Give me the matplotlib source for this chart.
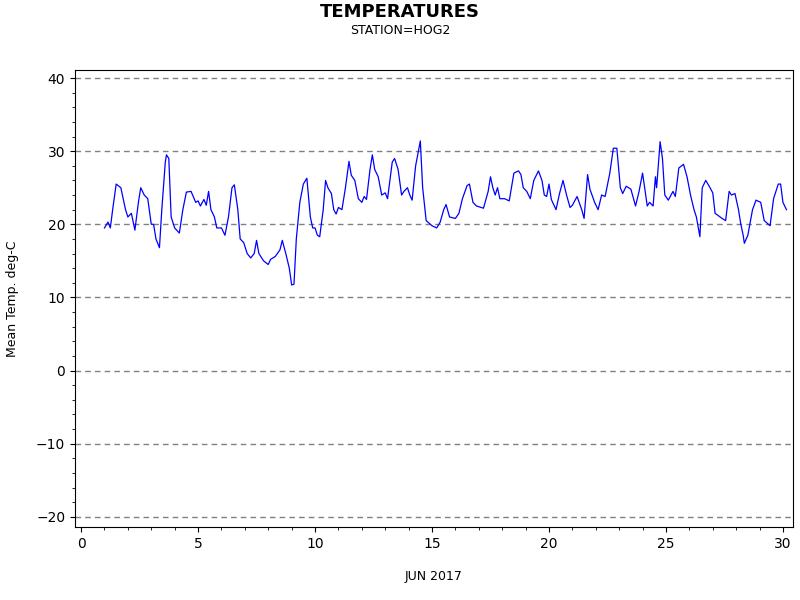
import matplotlib
matplotlib.use("Agg")
import matplotlib.pyplot as plt
from matplotlib.ticker import MultipleLocator

days = [1.0,1.15,1.25,1.35,1.5,1.7,1.9,2.0,2.15,2.3,2.45,2.55,2.7,2.85,3.0,3.1,3.2,3.35,3.45,3.6,3.65,3.75,3.85,4.0,4.2,4.35,4.5,4.7,4.9,5.0,5.1,5.25,5.35,5.45,5.55,5.7,5.8,6.0,6.15,6.3,6.45,6.55,6.7,6.8,6.95,7.1,7.25,7.4,7.5,7.6,7.8,8.0,8.1,8.3,8.5,8.6,8.75,8.9,9.0,9.1,9.2,9.35,9.5,9.65,9.8,9.9,10.0,10.1,10.2,10.35,10.45,10.55,10.7,10.8,10.9,11.0,11.15,11.3,11.45,11.55,11.7,11.85,12.0,12.1,12.2,12.35,12.45,12.55,12.7,12.85,13.0,13.1,13.3,13.4,13.55,13.7,13.8,13.95,14.05,14.15,14.3,14.5,14.6,14.75,15.0,15.2,15.35,15.5,15.6,15.75,16.0,16.15,16.3,16.5,16.6,16.75,16.9,17.2,17.4,17.5,17.6,17.7,17.8,17.9,18.1,18.3,18.5,18.7,18.8,18.9,19.05,19.2,19.35,19.55,19.7,19.8,19.9,20.0,20.1,20.3,20.45,20.6,20.75,20.9,21.0,21.2,21.4,21.5,21.65,21.75,21.95,22.1,22.25,22.4,22.6,22.75,22.9,23.05,23.15,23.3,23.5,23.7,23.85,24.0,24.2,24.3,24.45,24.55,24.6,24.75,24.85,24.95,25.1,25.3,25.4,25.55,25.75,25.9,26.05,26.2,26.3,26.45,26.55,26.7,26.85,27.0,27.1,27.4,27.55,27.7,27.8,27.95,28.1,28.2,28.3,28.35,28.5,28.7,28.85,29.05,29.2,29.45,29.6,29.8,29.9,30.0,30.15]
temps = [19.5,20.3,19.5,22,25.5,25,22,21,21.5,19.2,23,25,24,23.5,20,20,18,16.8,22,28.5,29.5,29,21,19.5,18.8,22,24.4,24.5,23,23.2,22.5,23.4,22.6,24.5,22,21,19.5,19.5,18.5,21,25,25.4,22,18,17.5,16,15.4,16,17.8,16,15,14.5,15.2,15.6,16.5,17.8,16,14,11.7,11.8,18,23,25.5,26.3,21,19.5,19.5,18.5,18.3,22,26,25,24.2,22,21.4,22.3,22,25,28.6,26.7,26,23.5,23,23.8,23.4,27.5,29.5,27.5,26.5,24,24.3,23.5,28.5,29,27.5,24,24.5,25,24,23.3,28,31.4,25,20.5,19.8,19.5,20.3,22,22.7,21,20.8,21.5,23.5,25.3,25.5,23,22.5,22.2,24.5,26.5,25,24,25,23.5,23.5,23.2,27,27.3,26.8,25,24.5,23.5,26,27.3,26,24,23.8,25.5,23.4,22,24.2,26,24,22.3,22.6,23.8,22,20.8,26.8,24.8,23,22,24,23.8,27,30.4,30.4,25,24.2,25.2,24.8,22.5,24.5,27,22.5,23,22.5,26.5,25,31.3,29,24,23.3,24.5,23.8,27.7,28.2,26.5,24,22,21,18.3,25,26,25.2,24.3,21.5,20.8,20.5,24.5,24,24.2,22,20,18.5,17.4,18.5,22,23.3,23,20.5,19.8,23.5,25.5,25.5,23,22]

fig = plt.figure(figsize=(8, 6), dpi=100)
ax = fig.add_axes([75/800, 1-527/600, 718/800, 457/600])
ax.plot(days, temps, color="blue", lw=0.9)
ax.set_xlim(-0.26, 30.43)
ax.set_ylim(-21.4, 41.1)
ax.xaxis.set_major_locator(MultipleLocator(5))
ax.xaxis.set_minor_locator(MultipleLocator(1))
ax.yaxis.set_major_locator(MultipleLocator(10))
ax.yaxis.set_minor_locator(MultipleLocator(2))
ax.grid(axis="y", which="major", linestyle=(0, (4, 3)), color="gray", lw=1)
ax.tick_params(labelsize=10)
ax.set_xlabel("JUN 2017", fontsize=9, labelpad=14)
ax.set_ylabel("Mean Temp. deg-C", fontsize=9, labelpad=12)
fig.text(0.5, 1-12/600, "TEMPERATURES", ha="center", va="center", fontsize=13, fontweight="bold")
fig.text(0.5, 1-30/600, "STATION=HOG2", ha="center", va="center", fontsize=9)
fig.savefig("out.png", dpi=100)
